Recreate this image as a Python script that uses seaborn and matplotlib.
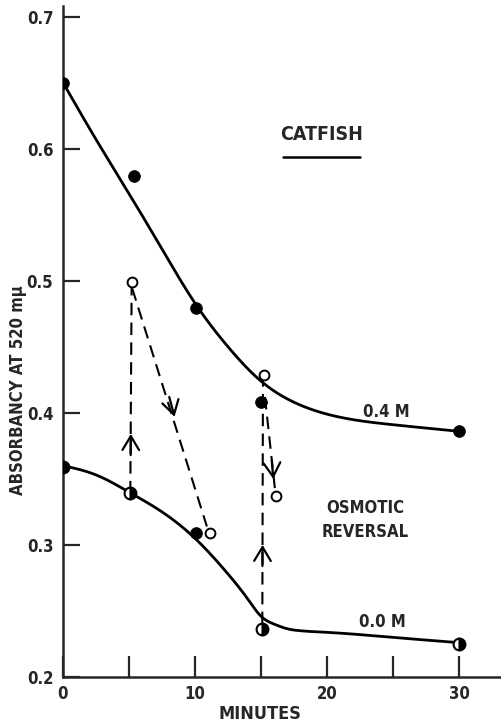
import numpy as np
import matplotlib
matplotlib.use("Agg")
import matplotlib.pyplot as plt
import seaborn as sns

# ---- data ----
# fitted curves (knots)
curve04_x = [0, 2.5, 5, 7.5, 10, 12.5, 15, 17.5, 20, 22.5, 25, 30]
curve04_y = [0.650, 0.607, 0.566, 0.524, 0.483, 0.450, 0.424, 0.408, 0.399, 0.394, 0.391, 0.386]
curve00_x = [0, 2.5, 5, 7.5, 10, 12.5, 14, 15, 16, 17, 18, 20, 25, 30]
curve00_y = [0.360, 0.353, 0.340, 0.325, 0.305, 0.278, 0.259, 0.246, 0.240, 0.2365, 0.235, 0.2338, 0.230, 0.226]

# measured points
filled_x = [0, 5.4, 10.1, 15.0, 10.1, 30]
filled_y = [0.650, 0.579, 0.479, 0.408, 0.309, 0.386]
half_x = [0, 5.1, 15.1, 30]
half_y = [0.359, 0.339, 0.236, 0.225]
open_x = [5.2, 11.1, 15.2, 16.1]
open_y = [0.499, 0.309, 0.429, 0.337]

# dashed reversal paths (start -> end) and arrow head positions
paths = [((5.1, 0.339), (5.2, 0.496)),
         ((5.25, 0.494), (10.9, 0.314)),
         ((15.1, 0.240), (15.15, 0.425)),
         ((15.3, 0.412), (16.05, 0.343))]
heads = [((5.13, 0.368), (5.14, 0.384)),
         ((8.05, 0.412), (8.45, 0.397)),
         ((15.11, 0.284), (15.12, 0.300)),
         ((15.82, 0.364), (15.93, 0.350))]

xticks = [0, 5, 10, 15, 20, 25, 30]
xticklabels = ["0", "", "10", "", "20", "", "30"]
yticks = [0.2, 0.3, 0.4, 0.5, 0.6, 0.7]
yticklabels = ["0.2", "0.3", "0.4", "0.5", "0.6", "0.7"]


def natural_spline(x, y, n=30):
    """Smooth drawing of the hand-fitted curve through its knots."""
    x = np.asarray(x, float); y = np.asarray(y, float)
    N = len(x); h = np.diff(x)
    A = np.zeros((N, N)); b = np.zeros(N)
    A[0, 0] = 1; A[-1, -1] = 1
    for i in range(1, N - 1):
        A[i, i - 1] = h[i - 1]; A[i, i] = 2 * (h[i - 1] + h[i]); A[i, i + 1] = h[i]
        b[i] = 6 * ((y[i + 1] - y[i]) / h[i] - (y[i] - y[i - 1]) / h[i - 1])
    M = np.linalg.solve(A, b)
    xs, ys = [], []
    for i in range(N - 1):
        t = np.linspace(x[i], x[i + 1], n, endpoint=False)
        a = x[i + 1] - t; c = t - x[i]
        s = (M[i] * a**3 + M[i + 1] * c**3) / (6 * h[i]) \
            + (y[i] / h[i] - M[i] * h[i] / 6) * a + (y[i + 1] / h[i] - M[i + 1] * h[i] / 6) * c
        xs.append(t); ys.append(s)
    xs.append([x[-1]]); ys.append([y[-1]])
    return np.concatenate(xs), np.concatenate(ys)


sns.set_style("ticks")
plt.rcParams['font.family'] = ['DejaVu Sans']
FONT = dict(family='DejaVu Sans', stretch='condensed', weight='bold')

fig = plt.figure(figsize=(5.02, 7.25), dpi=100)
ax = fig.add_axes([63/502, 48/725, 439/502, 671/725])

for cx, cy in [(curve04_x, curve04_y), (curve00_x, curve00_y)]:
    sx, sy = natural_spline(cx, cy)
    sns.lineplot(x=sx, y=sy, ax=ax, color='black', lw=2.0, sort=False,
                 estimator=None, zorder=2)

for (x0, y0), (x1, y1) in paths:
    sns.lineplot(x=[x0, x1], y=[y0, y1], ax=ax, color='black', lw=1.5,
                 sort=False, estimator=None, zorder=1)
    ax.lines[-1].set_linestyle((0, (6, 3.5)))
for tail, head in heads:
    ax.annotate('', xy=head, xytext=tail,
                arrowprops=dict(arrowstyle='->,head_length=0.5,head_width=0.3',
                                lw=1.6, color='black',
                                mutation_scale=20, shrinkA=0, shrinkB=0))

sns.scatterplot(x=filled_x, y=filled_y, ax=ax, color='black', s=70,
                edgecolor='black', zorder=4)
ax.plot(half_x, half_y, 'o', ls='none', ms=8.5, mfc='black', mec='black',
        mfcalt='white', fillstyle='right', mew=1.5, zorder=4)
sns.scatterplot(x=open_x, y=open_y, ax=ax, facecolor='white',
                edgecolor='black', s=50, linewidth=1.4, zorder=4)

ax.set_xlim(0, 33.26)
ax.set_ylim(0.2, 0.708)
sns.despine(ax=ax)
for s in ['left', 'bottom']:
    ax.spines[s].set_linewidth(1.8)
ax.set_xticks(xticks)
ax.set_xticklabels(xticklabels, **FONT, fontsize=12)
ax.set_yticks(yticks)
ax.set_yticklabels(yticklabels, **FONT, fontsize=12)
ax.tick_params(axis='x', direction='in', length=15, width=1.6, pad=6)
ax.tick_params(axis='y', direction='in', length=12, width=1.6, pad=7)
ax.set_xlabel('')
ax.set_ylabel('')

ax.text(19.6, 0.611, 'CATFISH', ha='center', va='center', fontsize=14, **FONT)
ax.plot([16.7, 22.5], [0.594, 0.594], color='black', lw=1.8)
ax.text(24.5, 0.401, '0.4 M', ha='center', va='center', fontsize=12, **FONT)
ax.text(24.2, 0.2417, '0.0 M', ha='center', va='center', fontsize=12, **FONT)
ax.text(22.9, 0.328, 'OSMOTIC', ha='center', va='center', fontsize=12, **FONT)
ax.text(22.9, 0.310, 'REVERSAL', ha='center', va='center', fontsize=12, **FONT)

fig.text(260/502, 1 - 714/725, 'MINUTES', ha='center', va='center', fontsize=13, **FONT)
fig.text(18/502, 1 - 390/725, 'ABSORBANCY AT 520 m\u03bc', ha='center', va='center',
         rotation=90, fontsize=12, **FONT)

fig.savefig('out.png', dpi=100)
